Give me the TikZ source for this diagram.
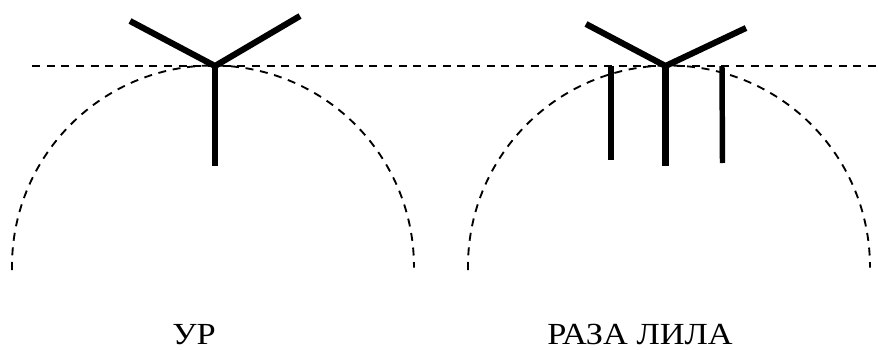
\documentclass[tikz,border=0pt]{standalone}
\usepackage{fontspec}
\setmainfont[FakeStretch=1.12]{Liberation Serif}
\usepackage{tikz}
\tikzset{
  kar/.style={line width=4.6pt},
  szal/.style={line width=4.1pt},
  vonal/.style={line width=1.5pt,dash pattern=on 6pt off 5pt},
  ivvonal/.style={line width=1.4pt,dash pattern=on 6pt off 5pt},
  felirat/.style={font=\fontsize{23}{23}\selectfont,inner sep=0pt,anchor=base},
}
\begin{document}
\begin{tikzpicture}[x=0.75pt,y=-0.75pt]
  \useasboundingbox (0,0) rectangle (879,350);
  \coordinate (hl) at (32,66); \coordinate (hr) at (877,66);
  \draw[vonal] (hl) -- (hr);
  \begin{scope}
    \coordinate (o1) at (215,66);
    \coordinate (a1) at (130,21); \coordinate (b1) at (300,16); \coordinate (c1) at (215,166);
    \draw[ivvonal] (12,270) arc[start angle=179,end angle=360.3,radius=201];
    \draw[kar] (a1) -- (o1) -- (b1); \draw[kar] (o1) -- (c1);
    \node[felirat] (ur) at (194,344) {УР};
  \end{scope}
  \begin{scope}
    \coordinate (o2) at (665.5,66);
    \coordinate (a2) at (586,24); \coordinate (b2) at (746,28); \coordinate (c2) at (665.5,166);
    \coordinate (d2) at (611,66); \coordinate (e2) at (611,160);
    \coordinate (f2) at (722,66); \coordinate (g2) at (722.5,163);
    \draw[ivvonal] (468,270) arc[start angle=179,end angle=360.3,radius=201];
    \draw[kar] (a2) -- (o2) -- (b2); \draw[kar] (o2) -- (c2);
    \draw[szal] (d2) -- (e2); \draw[szal] (f2) -- (g2);
    \node[felirat] (raza) at (640,344) {РАЗА ЛИЛА};
  \end{scope}
\end{tikzpicture}
\end{document}
